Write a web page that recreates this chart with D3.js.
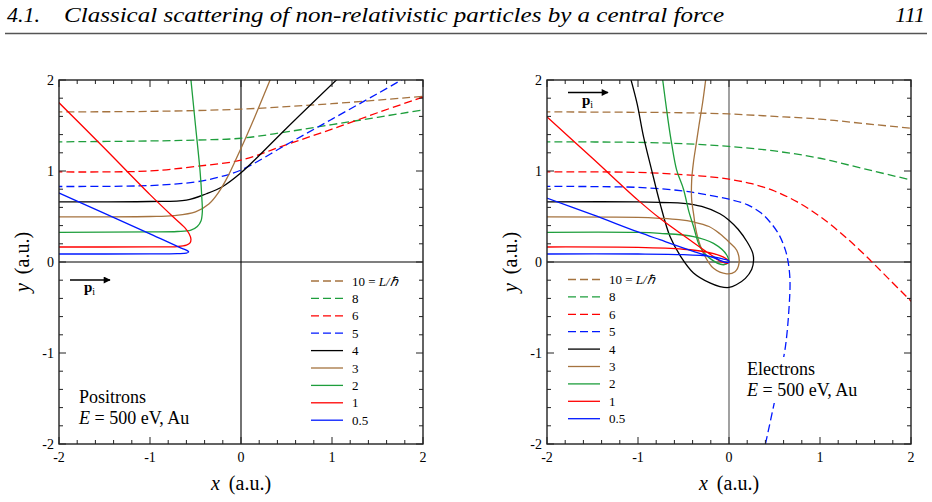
<!DOCTYPE html>
<html><head><meta charset="utf-8">
<script src="https://cdn.jsdelivr.net/npm/d3@7"></script>
<style>html,body{margin:0;padding:0;background:#fff;} svg{display:block;}</style>
</head><body>
<script>
// ---------- data ----------
const legendLabels = ["10", "8", "6", "5", "4", "3", "2", "1", "0.5"];
const legendColors = ["#a5733f", "#1e9e3c", "#ff0000", "#0018ff", "#000000", "#a5733f", "#1e9e3c", "#ff0000", "#0018ff"];
const legendDashed = [true, true, true, true, false, false, false, false, false];
const tickLabels = ["-2", "-1", "0", "1", "2"];

// Positrons (left panel), L/hbar = 10,8,6,5,4,3,2,1,0.5
const posL10 = [[-2.05,1.65],[-1,1.655],[0,1.68],[1,1.74],[2.05,1.825]];
const posL8  = [[-2.05,1.32],[-1,1.33],[-0.5,1.34],[0,1.36],[0.5,1.43],[1,1.51],[1.5,1.59],[2.05,1.68]];
const posL6  = [[-2.05,0.99],[-1,1.0],[-0.5,1.05],[0,1.12],[0.5,1.29],[1,1.46],[1.5,1.64],[2.05,1.83]];
const posL5  = [[-2.05,0.83],[-1,0.84],[-0.5,0.88],[-0.25,0.93],[0,1.01],[0.5,1.29],[1,1.57],[1.5,1.85],[1.85,2.05]];
const posL4  = [[-2.05,0.66],[-1,0.665],[-0.6,0.68],[-0.38,0.75],[-0.2,0.83],[0,0.98],[0.2,1.17],[0.5,1.47],[1.1,2.05]];
const posL3  = [[-2.05,0.495],[-1,0.5],[-0.74,0.51],[-0.5,0.55],[-0.35,0.64],[-0.25,0.76],[-0.15,0.93],[-0.05,1.14],[0.05,1.36],[0.15,1.59],[0.34,2.05]];
const posL2  = [[-2.05,0.326],[-1,0.33],[-0.7,0.335],[-0.55,0.35],[-0.48,0.39],[-0.44,0.45],[-0.425,0.55],[-0.43,0.7],[-0.45,1.0],[-0.5,1.5],[-0.555,2.05]];
const posL1  = [[-2.05,0.165],[-1,0.166],[-0.7,0.17],[-0.6,0.185],[-0.56,0.21],[-0.55,0.25],[-0.57,0.31],[-0.62,0.38],[-0.75,0.5],[-1.0,0.74],[-1.5,1.25],[-2.05,1.8]];
const posL05 = [[-2.05,0.088],[-1,0.089],[-0.7,0.092],[-0.6,0.098],[-0.575,0.11],[-0.59,0.125],[-0.65,0.15],[-1,0.31],[-1.5,0.535],[-2.05,0.78]];

// Electrons (right panel)
const eleL10 = [[-2.05,1.65],[-1,1.645],[-0.5,1.64],[0,1.627],[0.5,1.60],[1,1.57],[1.5,1.52],[2.05,1.465]];
const eleL8  = [[-2.05,1.32],[-1,1.315],[-0.5,1.30],[0,1.27],[0.5,1.22],[1,1.14],[1.5,1.02],[2.05,0.89]];
const eleL6  = [[-2.05,0.99],[-1,0.985],[-0.5,0.96],[-0.25,0.94],[0,0.91],[0.25,0.86],[0.5,0.78],[0.75,0.66],[1.0,0.50],[1.25,0.30],[1.5,0.07],[1.75,-0.18],[2.05,-0.48]];
const eleL5  = [[-2.05,0.83],[-1,0.82],[-0.5,0.78],[-0.25,0.74],[0,0.69],[0.2,0.63],[0.35,0.54],[0.45,0.44],[0.55,0.30],[0.62,0.13],[0.65,0],[0.67,-0.2],[0.66,-0.5],[0.62,-0.93],[0.55,-1.3],[0.48,-1.63],[0.39,-2.05]];
const eleL4  = [[-2.05,0.66],[-1,0.66],[-0.5,0.645],[-0.3,0.61],[-0.1,0.53],[0,0.46],[0.1,0.36],[0.2,0.22],[0.26,0.1],[0.27,0.02],[0.25,-0.08],[0.18,-0.18],[0.08,-0.25],[0,-0.28],[-0.1,-0.27],[-0.21,-0.23],[-0.39,-0.12],[-0.53,0.06],[-0.648,0.28],[-0.758,0.645],[-0.85,1.01],[-0.94,1.38],[-1.01,1.74],[-1.09,2.05]];
const eleL3  = [[-2.05,0.495],[-1,0.49],[-0.76,0.48],[-0.55,0.465],[-0.39,0.44],[-0.22,0.39],[-0.1,0.31],[0,0.22],[0.085,0.13],[0.11,-0.015],[0.066,-0.106],[-0.025,-0.13],[-0.17,-0.07],[-0.28,0.095],[-0.355,0.315],[-0.39,0.535],[-0.41,0.68],[-0.41,0.9],[-0.39,1.1],[-0.36,1.3],[-0.33,1.5],[-0.29,1.75],[-0.25,2.05]];
const eleL2  = [[-2.05,0.326],[-1,0.325],[-0.76,0.315],[-0.39,0.28],[-0.17,0.205],[-0.025,0.077],[-0.007,0.0],[-0.06,-0.03],[-0.21,0.04],[-0.32,0.17],[-0.39,0.39],[-0.44,0.55],[-0.5,0.8],[-0.575,1.01],[-0.63,1.3],[-0.67,1.56],[-0.735,2.05]];
const eleL1  = [[-2.05,0.165],[-1,0.16],[-0.5,0.14],[-0.25,0.11],[-0.1,0.07],[-0.03,0.035],[0.0,0.005],[-0.02,-0.015],[-0.08,0.0],[-0.2,0.08],[-0.4,0.22],[-0.76,0.48],[-1.0,0.68],[-1.5,1.14],[-2.05,1.64]];
const eleL05 = [[-2.05,0.088],[-1,0.088],[-0.5,0.08],[-0.2,0.06],[-0.05,0.03],[0.0,0.008],[-0.01,-0.006],[-0.05,0.0],[-0.15,0.04],[-0.4,0.12],[-0.76,0.245],[-1,0.33],[-1.5,0.52],[-2.05,0.72]];

const posSeries = [posL10, posL8, posL6, posL5, posL4, posL3, posL2, posL1, posL05];
const eleSeries = [eleL10, eleL8, eleL6, eleL5, eleL4, eleL3, eleL2, eleL1, eleL05];

// ---------- drawing ----------
const W = 932, H = 502;
const FONT = "Liberation Serif";
const svg = d3.select("body").append("svg").attr("width", W).attr("height", H);
function txt(parent) { return parent.append("text").attr("font-family", FONT); }

// header
txt(svg).attr("x", 7).attr("y", 22).attr("font-size", 22).attr("font-style", "italic").text("4.1.");
txt(svg).attr("x", 64).attr("y", 22).attr("font-size", 22).attr("font-style", "italic")
  .attr("textLength", 660).attr("lengthAdjust", "spacingAndGlyphs")
  .text("Classical scattering of non-relativistic particles by a central force");
txt(svg).attr("x", 925).attr("y", 22).attr("font-size", 22).attr("font-style", "italic").attr("text-anchor", "end").text("111");
svg.append("line").attr("x1", 5).attr("x2", 927).attr("y1", 33.5).attr("y2", 33.5).attr("stroke", "#555").attr("stroke-width", 1.3);

const defs = svg.append("defs");
defs.append("marker").attr("id", "ah").attr("viewBox", "0 0 10 10").attr("refX", 9).attr("refY", 5)
  .attr("markerWidth", 9).attr("markerHeight", 7).attr("markerUnits", "userSpaceOnUse").attr("orient", "auto")
  .append("path").attr("d", "M0,0 L10,5 L0,10 z").attr("fill", "#000");

function panel(id, xr, series, opts) {
  const x = d3.scaleLinear().domain([-2, 2]).range(xr);
  const y = d3.scaleLinear().domain([-2, 2]).range([444, 80]);
  const g = svg.append("g");
  defs.append("clipPath").attr("id", "clip" + id).append("rect")
    .attr("x", xr[0]).attr("y", 80).attr("width", xr[1] - xr[0]).attr("height", 364);

  // zero lines
  g.append("line").attr("x1", x(0)).attr("x2", x(0)).attr("y1", y(-2)).attr("y2", y(2)).attr("stroke", opts.vcol).attr("stroke-width", 1.1);
  g.append("line").attr("x1", x(-2)).attr("x2", x(2)).attr("y1", y(0)).attr("y2", y(0)).attr("stroke", "#000").attr("stroke-width", 1.1);

  // curves
  const line = d3.line().x(d => x(d[0])).y(d => y(d[1])).curve(d3.curveCatmullRom.alpha(0.5));
  const cg = g.append("g").attr("clip-path", "url(#clip" + id + ")");
  series.forEach((s, i) => {
    cg.append("path").attr("d", line(s)).attr("fill", "none").attr("stroke", legendColors[i])
      .attr("stroke-width", 1.3).attr("stroke-dasharray", legendDashed[i] ? "8,4" : null);
  });

  // annotation (white box hides curves behind it)
  g.append("rect").attr("x", opts.annX - 4).attr("y", opts.annY - 18).attr("width", 140).attr("height", 46).attr("fill", "#fff");
  txt(g).attr("x", opts.annX).attr("y", opts.annY).attr("font-size", 18).text(opts.name);
  const e = txt(g).attr("x", opts.annX).attr("y", opts.annY + 21).attr("font-size", 18);
  e.append("tspan").attr("font-style", "italic").text("E");
  e.append("tspan").text(" = 500 eV, Au");

  // frame + ticks (inward, all sides)
  const minor = d3.range(-2, 2.001, 0.2);
  minor.forEach(v => {
    const major = Math.abs(v - Math.round(v)) < 1e-6;
    const L = major ? 7 : 4;
    g.append("line").attr("x1", x(v)).attr("x2", x(v)).attr("y1", y(-2)).attr("y2", y(-2) - L).attr("stroke", "#222").attr("stroke-width", 1);
    g.append("line").attr("x1", x(v)).attr("x2", x(v)).attr("y1", y(2)).attr("y2", y(2) + L).attr("stroke", "#222").attr("stroke-width", 1);
    g.append("line").attr("y1", y(v)).attr("y2", y(v)).attr("x1", x(-2)).attr("x2", x(-2) + L).attr("stroke", "#222").attr("stroke-width", 1);
    g.append("line").attr("y1", y(v)).attr("y2", y(v)).attr("x1", x(2)).attr("x2", x(2) - L).attr("stroke", "#222").attr("stroke-width", 1);
  });
  g.append("rect").attr("x", x(-2)).attr("y", y(2)).attr("width", x(2) - x(-2)).attr("height", y(-2) - y(2))
    .attr("fill", "none").attr("stroke", "#222").attr("stroke-width", 1.4);

  // tick labels
  [-2, -1, 0, 1, 2].forEach((v, i) => {
    txt(g).attr("x", x(v)).attr("y", 462).attr("text-anchor", "middle").attr("font-size", 14).text(tickLabels[i]);
    txt(g).attr("x", x(-2) - 5).attr("y", y(v) + 5).attr("text-anchor", "end").attr("font-size", 14).text(tickLabels[i]);
  });

  // axis titles
  const xt = txt(g).attr("x", x(0)).attr("y", 490).attr("text-anchor", "middle").attr("font-size", 20);
  xt.append("tspan").attr("font-style", "italic").text("x");
  xt.append("tspan").attr("dx", 9).text("(a.u.)");
  const yt = txt(g).attr("transform", `translate(${x(-2) - 30},${y(0)}) rotate(-90)`).attr("text-anchor", "middle").attr("font-size", 20);
  yt.append("tspan").attr("font-style", "italic").text("y");
  yt.append("tspan").attr("dx", 9).text("(a.u.)");

  // legend
  legendLabels.forEach((lab, i) => {
    const yy = opts.legY + i * 17.4;
    g.append("line").attr("x1", opts.legX).attr("x2", opts.legX + 32).attr("y1", yy).attr("y2", yy)
      .attr("stroke", legendColors[i]).attr("stroke-width", 1.3).attr("stroke-dasharray", legendDashed[i] ? "8,4" : null);
    const t = txt(g).attr("x", opts.legX + 41).attr("y", yy + 4.5).attr("font-size", 13).text(lab);
    if (i === 0) {
      t.append("tspan").text(" = ");
      t.append("tspan").attr("font-style", "italic").text("L/ℏ");
    }
  });

  // momentum arrow
  g.append("line").attr("x1", opts.arX).attr("x2", opts.arX + 40).attr("y1", opts.arY).attr("y2", opts.arY)
    .attr("stroke", "#000").attr("stroke-width", 1.4).attr("marker-end", "url(#ah)");
  const pt = txt(g).attr("x", opts.arX + 14).attr("y", opts.arY + 12).attr("font-size", 15);
  pt.append("tspan").attr("font-weight", "bold").text("p");
  pt.append("tspan").attr("font-size", 10).attr("dy", 3).text("i");
}

panel("L", [59, 423], posSeries, {vcol: "#000", legX: 311, legY: 281, arX: 70, arY: 280, annX: 79, annY: 403, name: "Positrons"});
panel("R", [547, 911], eleSeries, {vcol: "#555", legX: 568, legY: 279.5, arX: 568, arY: 92.5, annX: 747, annY: 375, name: "Electrons"});
</script>
</body></html>
